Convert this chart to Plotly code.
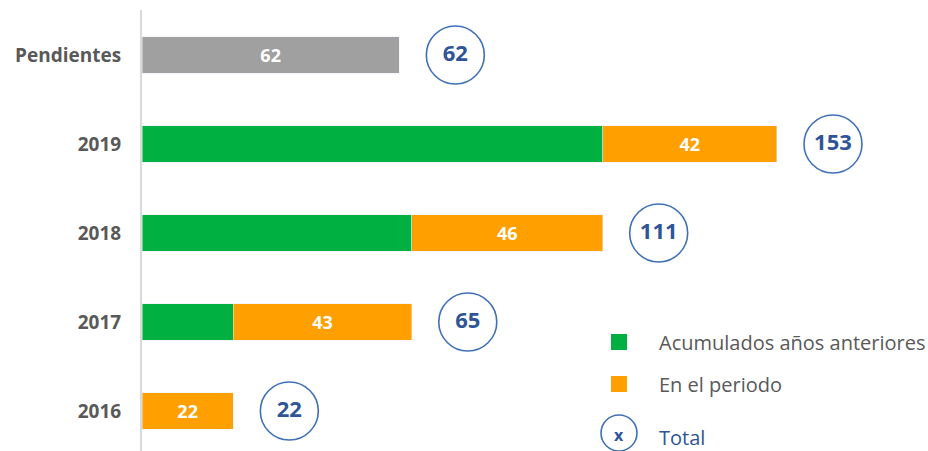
import plotly.graph_objects as go

categories = ["2016", "2017", "2018", "2019", "Pendientes"]
acumulados = [0, 22, 65, 111, None]
en_periodo = [22, 43, 46, 42, None]
pendientes = [None, None, None, None, 62]
totals = [22, 65, 111, 153, 62]

GREEN = "#00B040"
ORANGE = "#FFA000"
GRAY = "#A0A0A0"
BLUE_TXT = "#2F5597"
BLUE_LINE = "#4070B8"
LABEL = "#595959"
FONT = "Open Sans"

W, H = 928, 451
ML, MR, MT, MB = 142, 0, 10, 0
PX_PER_UNIT = 4.15
PX_PER_CAT = 89

fig = go.Figure()
fig.add_trace(go.Bar(
    y=categories, x=acumulados, orientation="h", marker_color=GREEN,
    name="Acumulados años anteriores", hoverinfo="x+name"))
fig.add_trace(go.Bar(
    y=categories, x=en_periodo, orientation="h", marker_color=ORANGE,
    name="En el periodo", text=en_periodo, texttemplate="%{x}",
    textposition="inside", insidetextanchor="middle",
    textfont=dict(color="white", size=18, family=FONT, weight="bold")))
fig.add_trace(go.Bar(
    y=categories, x=pendientes, orientation="h", marker_color=GRAY,
    name="Pendientes", text=pendientes, texttemplate="%{x}",
    textposition="inside", insidetextanchor="middle",
    textfont=dict(color="white", size=18, family=FONT, weight="bold")))

# total circles, offset right of bar end
circle_offset = 13.5
fig.add_trace(go.Scatter(
    y=categories, x=[t + circle_offset for t in totals], mode="markers+text",
    marker=dict(symbol="circle", size=58, color="white",
                line=dict(color=BLUE_LINE, width=1.6)),
    text=[str(t) for t in totals], textposition="middle center",
    textfont=dict(color=BLUE_TXT, size=22, family=FONT, weight="bold"),
    name="Total", hoverinfo="skip"))

plot_w = W - ML - MR
plot_h = H - MT - MB
xmax = plot_w / PX_PER_UNIT
y_top = 4 + (55 - MT) / PX_PER_CAT
y_bot = y_top - plot_h / PX_PER_CAT


def px(x):
    return (x - ML) / plot_w


def py(y):
    return (H - MB - y) / plot_h


shapes = []
annotations = []
# custom legend
legend_items = [
    (342, GREEN, "Acumulados años anteriores", LABEL),
    (384, ORANGE, "En el periodo", LABEL),
]
for yc, col, txt, tcol in legend_items:
    shapes.append(dict(type="rect", xref="paper", yref="paper",
                       x0=px(611), x1=px(627), y0=py(yc + 8), y1=py(yc - 8),
                       fillcolor=col, line=dict(width=0)))
    annotations.append(dict(xref="paper", yref="paper", x=px(657), y=py(yc),
                            text=txt, showarrow=False, xanchor="left",
                            yanchor="middle",
                            font=dict(color=tcol, size=20, family=FONT)))
shapes.append(dict(type="circle", xref="paper", yref="paper",
                   x0=px(601), x1=px(637), y0=py(451), y1=py(415),
                   line=dict(color=BLUE_LINE, width=1.6)))
annotations.append(dict(xref="paper", yref="paper", x=px(619), y=py(435),
                        text="x", showarrow=False, xanchor="center",
                        yanchor="middle",
                        font=dict(color=BLUE_TXT, size=16, family=FONT, weight="bold")))
annotations.append(dict(xref="paper", yref="paper", x=px(657), y=py(437),
                        text="Total", showarrow=False, xanchor="left",
                        yanchor="middle",
                        font=dict(color=BLUE_TXT, size=20, family=FONT)))

fig.update_layout(
    width=W, height=H, barmode="stack", bargap=0.595,
    margin=dict(l=ML, r=MR, t=MT, b=MB),
    plot_bgcolor="white", paper_bgcolor="white",
    showlegend=False, shapes=shapes, annotations=annotations,
    xaxis=dict(range=[0, xmax], visible=False, fixedrange=True),
    yaxis=dict(type="category", categoryorder="array", categoryarray=categories,
               range=[y_bot, y_top], showline=True, linecolor="#D9D9D9",
               linewidth=2, showgrid=False, zeroline=False,
               ticks="outside", ticklen=15, tickcolor="rgba(0,0,0,0)",
               tickfont=dict(color=LABEL, size=19, family=FONT, weight="bold")),
    font=dict(family=FONT),
)

fig.write_html("out.html", config={"displayModeBar": False},
               post_script="document.body.style.margin='0';document.body.style.overflow='hidden';")
